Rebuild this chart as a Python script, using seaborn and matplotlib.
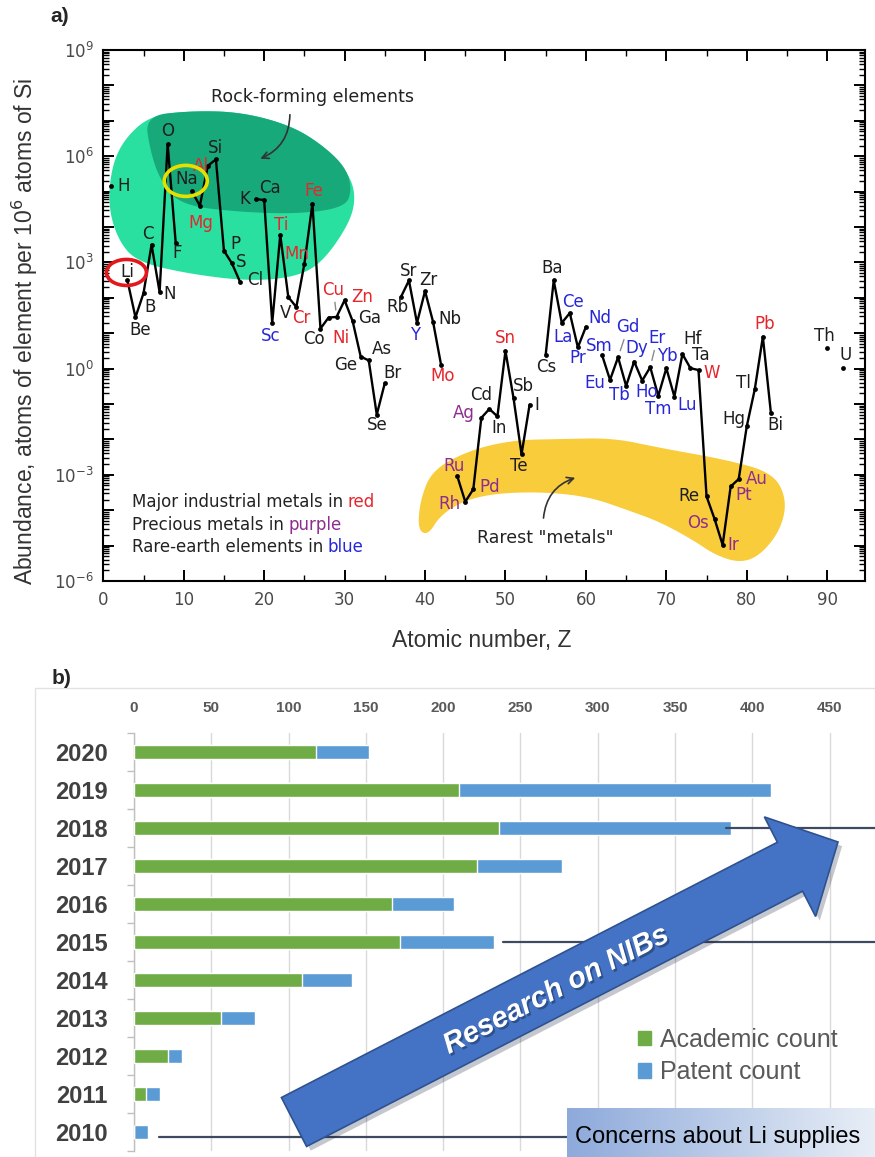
import numpy as np
import pandas as pd
import matplotlib
matplotlib.use("Agg")
import matplotlib.pyplot as plt
import matplotlib.colors as mcolors
import seaborn as sns
from matplotlib import ticker, patches as mpatches, transforms as mtransforms, patheffects as pe
from matplotlib import font_manager as fm

# ---------------- data: panel a (abundance per 10^6 Si atoms, log10) ----------------
elements = ['H', 'Li', 'Be', 'B', 'C', 'N', 'O', 'F',
            'Na', 'Mg', 'Al', 'Si', 'P', 'S', 'Cl',
            'K', 'Ca', 'Sc', 'Ti', 'V', 'Cr', 'Mn', 'Fe', 'Co', 'Ni', 'Cu', 'Zn', 'Ga', 'Ge', 'As', 'Se', 'Br',
            'Rb', 'Sr', 'Y', 'Zr', 'Nb', 'Mo',
            'Ru', 'Rh', 'Pd', 'Ag', 'Cd', 'In', 'Sn', 'Sb', 'Te', 'I',
            'Cs', 'Ba', 'La', 'Ce', 'Pr', 'Nd',
            'Sm', 'Eu', 'Gd', 'Tb', 'Dy', 'Ho', 'Er', 'Tm', 'Yb', 'Lu', 'Hf', 'Ta', 'W', 'Re', 'Os', 'Ir',
            'Pt', 'Au', 'Hg', 'Tl', 'Pb', 'Bi',
            'Th', 'U']
atomic_number = [1, 3, 4, 5, 6, 7, 8, 9,
                 11, 12, 13, 14, 15, 16, 17,
                 19, 20, 21, 22, 23, 24, 25, 26, 27, 28, 29, 30, 31, 32, 33, 34, 35,
                 37, 38, 39, 40, 41, 42,
                 44, 45, 46, 47, 48, 49, 50, 51, 52, 53,
                 55, 56, 57, 58, 59, 60,
                 62, 63, 64, 65, 66, 67, 68, 69, 70, 71, 72, 73, 74, 75, 76, 77,
                 78, 79, 80, 81, 82, 83,
                 90, 92]
log10_abundance = [5.16, 2.49, 1.45, 2.13, 3.50, 2.16, 6.34, 3.56,
                   5.02, 4.60, 5.73, 5.91, 3.33, 2.97, 2.45,
                   4.79, 4.76, 1.29, 3.78, 2.02, 1.74, 2.96, 4.66, 1.13, 1.44, 1.46, 1.93, 1.34, 0.34, 0.23, -1.30, -0.41,
                   2.02, 2.49, 1.29, 2.19, 1.32, 0.10,
                   -3.03, -3.76, -3.41, -1.39, -1.14, -1.35, 0.50, -0.83, -2.42, -1.02,
                   0.39, 2.49, 1.29, 1.57, 0.60, 1.18,
                   0.39, -0.32, 0.32, -0.49, 0.20, -0.34, 0.04, -0.77, 0.01, -0.79, 0.41, 0.01, -0.04, -3.61, -4.25, -4.98,
                   -3.33, -3.12, -1.63, -0.58, 0.90, -1.25,
                   0.57, 0.01]
industrial_metals = ['Mg', 'Al', 'Ti', 'Cr', 'Mn', 'Fe', 'Ni', 'Cu', 'Zn', 'Mo', 'Sn', 'W', 'Pb']
precious_metals = ['Ru', 'Rh', 'Pd', 'Ag', 'Os', 'Ir', 'Pt', 'Au']
rare_earths = ['Sc', 'Y', 'La', 'Ce', 'Pr', 'Nd', 'Sm', 'Eu', 'Gd', 'Tb', 'Dy', 'Ho', 'Er', 'Tm', 'Yb', 'Lu']
x_ticks_a = [0, 10, 20, 30, 40, 50, 60, 70, 80, 90]

# ---------------- data: panel b ----------------
years = ['2020', '2019', '2018', '2017', '2016', '2015', '2014', '2013', '2012', '2011', '2010']
academic_count = [118, 210, 236, 222, 167, 172, 109, 56, 22, 8, 0]
patent_count = [34, 202, 150, 55, 40, 61, 32, 22, 9, 9, 9]
x_ticks_b = [0, 50, 100, 150, 200, 250, 300, 350, 400, 450]

# ---------------- styles ----------------
RED = '#e5262c'
PURPLE = '#8e2c90'
BLUE = '#2727d9'
INK = '#1e1e1e'
GREEN_LIGHT = '#2ae0a0'
GREEN_DARK = '#18a97a'
YELLOW = '#f9cc3c'
ACAD_GREEN = '#6fac46'
PATENT_BLUE = '#5b9bd5'

# label offsets in pixels (dx right, dy down)
label_offset = {
    'H': (12, 0), 'Li': (0, -8), 'Be': (5, 13), 'B': (7, 14), 'C': (-4, -11), 'N': (10, 2), 'O': (0, -13),
    'F': (1, 10), 'Na': (-5, -12), 'Mg': (1, 17), 'Al': (-7, 0), 'Si': (0, -11), 'P': (11, -7), 'S': (9, -1),
    'Cl': (15, -2), 'K': (-11, 0), 'Ca': (6, -12), 'Sc': (-2, 13), 'Ti': (1, -10), 'V': (-3, 16), 'Cr': (5, 11),
    'Mn': (-8, -10), 'Fe': (1, -13), 'Co': (-7, 10), 'Ni': (12, 20), 'Cu': (-3, -27), 'Zn': (18, -3),
    'Ga': (17, -3), 'Ge': (-15, 8), 'As': (13, -11), 'Se': (0, 10), 'Br': (8, -10), 'Rb': (-3, 10),
    'Sr': (0, -9), 'Y': (-2, 12), 'Zr': (3, -11), 'Nb': (17, -3), 'Mo': (2, 11), 'Ru': (-3, -10),
    'Rh': (-16, 2), 'Pd': (16, -2), 'Ag': (-18, -5), 'Cd': (-8, -14), 'In': (2, 12), 'Sn': (0, -13),
    'Sb': (10, -12), 'Te': (-3, 12), 'I': (7, 0), 'Cs': (1, 12), 'Ba': (-2, -12), 'La': (1, 14),
    'Ce': (3, -11), 'Pr': (0, 11), 'Nd': (14, -9), 'Sm': (-3, -9), 'Eu': (-15, 3), 'Gd': (10, -30),
    'Tb': (-7, 9), 'Dy': (3, -14), 'Ho': (4, 11), 'Er': (7, -29), 'Tm': (0, 13), 'Yb': (1, -12),
    'Lu': (13, 8), 'Hf': (10, -15), 'Ta': (10, -13), 'W': (13, 3), 'Re': (-18, 0), 'Os': (-17, 4),
    'Ir': (11, 0), 'Pt': (13, 9), 'Au': (18, 0), 'Hg': (-13, -7), 'Tl': (-11, -6), 'Pb': (2, -13),
    'Bi': (4, 12), 'Th': (-3, -12), 'U': (2, -13)}
leader_labels = ['Cu', 'Gd', 'Er']

# decorative region outlines, in (Z, log10 abundance)
rock_outer = [(5.81, 7.14), (10.78, 7.28), (17.0, 7.25), (23.2, 6.88), (27.3, 6.31), (30.4, 5.55),
              (31.4, 4.90), (30.7, 4.14), (27.3, 3.01), (24.0, 2.59), (18.2, 2.47), (10.8, 2.67),
              (4.19, 3.01), (1.83, 3.63), (0.58, 4.62), (1.08, 5.75), (2.70, 6.51)]
rock_inner = [(5.2, 7.14), (10.78, 7.28), (17.0, 7.25), (23.2, 6.88), (27.3, 6.31), (30.2, 5.67),
              (30.9, 5.04), (30.06, 4.56), (24.5, 4.37), (17.0, 4.42), (9.54, 4.62), (7.05, 5.33),
              (5.81, 6.17)]
rare_zone = [(39.1, -4.56), (39.4, -3.71), (40.9, -2.86), (45.6, -2.30), (50.96, -2.02), (56.8, -1.99),
             (63.4, -1.96), (69.2, -2.24), (77.6, -2.58), (83.3, -2.95), (85.0, -3.71), (84.2, -4.56),
             (81.7, -5.27), (79.2, -5.49), (76.1, -5.27), (73.3, -4.84), (69.2, -4.33), (65.1, -3.99),
             (60.5, -3.63), (55.2, -3.49), (49.3, -3.51), (45.0, -3.71), (41.9, -4.14), (40.4, -4.70)]

# ---------------- setup ----------------
sns.set_theme(style='white', context='notebook')
_names = {f.name for f in fm.fontManager.ttflist}
NARROW = 'Liberation Sans Narrow' if 'Liberation Sans Narrow' in _names else 'Liberation Sans'
plt.rcParams['font.family'] = ['DejaVu Sans']
plt.rcParams['mathtext.fontset'] = 'dejavusans'

W, H = 875, 1157
fig = plt.figure(figsize=(W / 100, H / 100), dpi=100)
fig.patch.set_facecolor('white')


def fig_rect(x0, y0, x1, y1):
    return [x0 / W, 1 - y1 / H, (x1 - x0) / W, (y1 - y0) / H]


def chaikin(pts, n=4):
    p = np.asarray(pts, float)
    for _ in range(n):
        nxt = np.roll(p, -1, axis=0)
        q = 0.75 * p + 0.25 * nxt
        r = 0.25 * p + 0.75 * nxt
        p = np.empty((2 * len(q), 2))
        p[0::2] = q
        p[1::2] = r
    return p


# ================= panel a =================
axA = fig.add_axes(fig_rect(103.3, 50, 865, 581))
axA.set_facecolor('white')
axA.set_yscale('log')

for pts, col in [(rock_outer, GREEN_LIGHT), (rock_inner, GREEN_DARK), (rare_zone, YELLOW)]:
    s = chaikin(pts)
    axA.fill(s[:, 0], 10.0 ** s[:, 1], color=col, lw=0, zorder=1)

dfa = pd.DataFrame({'element': elements, 'Z': atomic_number,
                    'abundance': 10.0 ** np.array(log10_abundance)})
dfa['run'] = (dfa['Z'].diff() != 1).cumsum()
sns.lineplot(data=dfa, x='Z', y='abundance', units='run', estimator=None, color='black',
             lw=1.7, ax=axA, legend=False, zorder=3)
sns.scatterplot(data=dfa, x='Z', y='abundance', color='black', s=12, linewidth=0,
                ax=axA, zorder=4, legend=False)
axA.set_xlim(0, 94.7)
axA.set_ylim(1e-6, 1e9)

for sym, z, a in zip(dfa['element'], dfa['Z'], dfa['abundance']):
    dx, dy = label_offset[sym]
    if sym in industrial_metals:
        c = RED
    elif sym in precious_metals:
        c = PURPLE
    elif sym in rare_earths:
        c = BLUE
    else:
        c = INK
    kw = {}
    if sym in leader_labels:
        kw['arrowprops'] = dict(arrowstyle='-', color='#8a8a8a', lw=1.0, shrinkA=0, shrinkB=5)
    axA.annotate(sym, (z, a), xytext=(dx, -dy), textcoords='offset pixels', ha='center',
                 va='center', fontsize=12, color=c, zorder=5, **kw)


def ring(sym, dx, dy, w, h, color):
    i = elements.index(sym)
    px, py = axA.transData.transform((atomic_number[i], 10.0 ** log10_abundance[i]))
    e = mpatches.Ellipse((px + dx, py - dy), w, h, transform=mtransforms.IdentityTransform(),
                         fill=False, ec=color, lw=2.6, zorder=6)
    fig.add_artist(e)


ring('Li', -1, -8, 40, 26, '#e3171c')
ring('Na', -6, -10, 43, 31, '#e6e000')

axA.text(26.0, 10 ** 7.67, 'Rock-forming elements', fontsize=12.5, color='#222222',
         ha='center', va='center', zorder=5)
axA.annotate('', xy=(19.2, 10 ** 5.9), xytext=(23.2, 10 ** 7.25),
             arrowprops=dict(arrowstyle='->', connectionstyle='arc3,rad=-0.35', color='#333333', lw=1.2),
             zorder=5)
axA.text(54.9, 10 ** -4.78, 'Rarest "metals"', fontsize=12.5, color='#222222',
         ha='center', va='center', zorder=5)
axA.annotate('', xy=(59.0, 10 ** -3.06), xytext=(54.7, 10 ** -4.3),
             arrowprops=dict(arrowstyle='->', connectionstyle='arc3,rad=-0.35', color='#333333', lw=1.2),
             zorder=5)

for (txt, word, col), L in zip([('Major industrial metals in', 'red', RED),
                                 ('Precious metals in', 'purple', PURPLE),
                                 ('Rare-earth elements in', 'blue', BLUE)], [-3.76, -4.42, -5.03]):
    t = axA.text(3.53, 10 ** L, txt, fontsize=12, color='#222222', va='center', ha='left', zorder=5)
    axA.annotate(word, xy=(1, 0.5), xycoords=t, xytext=(5, 0), textcoords='offset pixels',
                 va='center', ha='left', fontsize=12, color=col, zorder=5)

axA.yaxis.set_major_locator(ticker.LogLocator(base=10, numticks=40))
axA.yaxis.set_minor_locator(ticker.LogLocator(base=10, subs=np.arange(2, 10), numticks=40))


def _yfmt(v, p):
    e = int(round(np.log10(v)))
    return f'$10^{{{e}}}$' if e % 3 == 0 else ''


axA.yaxis.set_major_formatter(ticker.FuncFormatter(_yfmt))
axA.yaxis.set_minor_formatter(ticker.NullFormatter())
axA.set_xticks(x_ticks_a)
axA.xaxis.set_minor_locator(ticker.MultipleLocator(5))
axA.tick_params(which='both', direction='in', top=True, right=True, left=True, bottom=True, color='black')
axA.tick_params(which='major', length=8, width=1.4, labelsize=12, labelcolor='#4a4a4a', pad=7)
axA.tick_params(which='minor', length=4, width=1.0)
for s in axA.spines.values():
    s.set_color('black')
    s.set_linewidth(1.5)
axA.set_xlabel('Atomic number, Z', fontsize=16.5, color='#333333', family='Liberation Sans')
axA.set_ylabel('Abundance, atoms of element per 10$^6$ atoms of Si', fontsize=16.5, color='#333333',
               family='Liberation Sans')
axA.xaxis.set_label_coords((482 - 103.3) / 761.7, (581 - 629) / 531)
axA.yaxis.set_label_coords(-(103.3 - 40) / 761.7, 0.47)

fig.text(50 / W, 1 - 17 / H, 'a)', fontsize=15, weight='bold', family='Liberation Sans', va='center')
fig.text(52 / W, 1 - 678 / H, 'b)', fontsize=15, weight='bold', family='Liberation Sans', va='center')

# ================= panel b =================
fig.add_artist(mpatches.Rectangle((35 / W, -0.01), 1.0, (H - 688) / H + 0.01, transform=fig.transFigure,
                                  fill=False, ec='#e2e2e2', lw=1.0, zorder=0))
axB = fig.add_axes(fig_rect(134, 733, 875, 1151))
axB.set_facecolor('none')
dfb = pd.DataFrame({'year': years, 'academic': academic_count, 'patent': patent_count})
dfb['total'] = dfb['academic'] + dfb['patent']
sns.barplot(data=dfb, x='total', y='year', orient='h', color=PATENT_BLUE, saturation=1, width=0.35,
            errorbar=None, ax=axB, zorder=2)
sns.barplot(data=dfb, x='academic', y='year', orient='h', color=ACAD_GREEN, saturation=1, width=0.35,
            errorbar=None, ax=axB, zorder=3)
xmax_b = (875 - 134) / 1.5458
axB.set_xlim(0, xmax_b)
axB.set_ylim(10.5, -0.5)
axB.set_xlabel('')
axB.set_ylabel('')
axB.xaxis.set_ticks_position('top')
axB.set_xticks(x_ticks_b)
axB.grid(axis='x', color='#d9d9d9', lw=1.0)
axB.grid(axis='y', visible=False)
axB.set_axisbelow(True)
for k in ['top', 'right', 'bottom']:
    axB.spines[k].set_visible(False)
axB.spines['left'].set_color('#bfbfbf')
axB.spines['left'].set_linewidth(1.0)
axB.tick_params(axis='x', length=0, pad=13, labelsize=11, labelcolor='#595959')
axB.tick_params(axis='y', which='major', length=0, pad=19, labelsize=17, labelcolor='#404040')
axB.set_yticks(np.arange(-0.5, 11, 1), minor=True)
axB.tick_params(axis='y', which='minor', left=True, length=5, width=1, color='#bfbfbf', direction='out')
for lbl in axB.get_xticklabels():
    lbl.set_fontfamily(NARROW)
    lbl.set_fontweight('bold')
for lbl in axB.get_yticklabels():
    lbl.set_fontfamily(NARROW)
    lbl.set_fontweight('bold')

# timeline lines
LINE_C = '#3e4a61'
yr = {y: i for i, y in enumerate(years)}
axB.plot([dfb['total'][yr['2018']] - 3, xmax_b], [yr['2018'], yr['2018']], color=LINE_C, lw=1.6,
         zorder=4, clip_on=False)
axB.plot([dfb['total'][yr['2015']] + 6, xmax_b], [yr['2015'], yr['2015']], color=LINE_C, lw=1.6,
         zorder=4, clip_on=False)
axB.plot([dfb['total'][yr['2010']] + 7, 300], [yr['2010'] + 0.13, yr['2010'] + 0.13], color=LINE_C, lw=1.6,
         zorder=4, clip_on=False)

# legend
handles = [mpatches.Patch(color=ACAD_GREEN, label='Academic count'),
           mpatches.Patch(color=PATENT_BLUE, label='Patent count')]
leg = fig.legend(handles=handles, loc='center left', bbox_to_anchor=(638 / W, 1 - 1056 / H), frameon=False,
                 prop={'family': NARROW, 'size': 18}, handlelength=0.5, handleheight=0.5,
                 handletextpad=0.4, labelspacing=0.35, borderpad=0, borderaxespad=0)
for t in leg.get_texts():
    t.set_color('#595959')

# big arrow
T = np.array([294.0, H - 1122.0])
P = np.array([838.0, H - 842.0])
u = (P - T) / np.linalg.norm(P - T)
n = np.array([u[1], -u[0]])
B = P - 54 * u
verts = [T - 27.5 * n, B - 27.5 * n, B - 56 * n, P, B + 56 * n, B + 27.5 * n, T + 27.5 * n]
arrow = mpatches.Polygon(verts, closed=True, transform=mtransforms.IdentityTransform(),
                         fc='#4472c4', ec='#2f528f', lw=1.2, zorder=4,
                         path_effects=[pe.SimplePatchShadow(offset=(3, -3), alpha=0.25), pe.Normal()])
fig.add_artist(arrow)
ang = np.degrees(np.arctan2(u[1], u[0]))
fig.text(556 / W, 1 - 990 / H, 'Research on NIBs', rotation=ang, rotation_mode='anchor', ha='center',
         va='center', color='white', fontsize=21, fontweight='bold', fontstyle='italic',
         family='Liberation Sans', zorder=6,
         path_effects=[pe.SimplePatchShadow(offset=(1.5, -1.5), shadow_rgbFace='#1f3864', alpha=0.6),
                       pe.Normal()])

# concerns box
axC = fig.add_axes(fig_rect(567, 1108, 875, 1157))
axC.set_zorder(7)
g = np.linspace(0, 1, 256)
c0 = np.array(mcolors.to_rgb('#8eaadb'))
c1 = np.array(mcolors.to_rgb('#e8eef6'))
img = c0[None, None, :] * (1 - g[None, :, None]) + c1[None, None, :] * g[None, :, None]
axC.imshow(img, aspect='auto', extent=(0, 1, 0, 1))
axC.set_axis_off()
axC.text(8 / 308, 0.41, 'Concerns about Li supplies', transform=axC.transAxes, ha='left', va='center',
         fontsize=17, color='black', family=NARROW, clip_on=False)

fig.savefig('out.png', dpi=100, facecolor='white')
